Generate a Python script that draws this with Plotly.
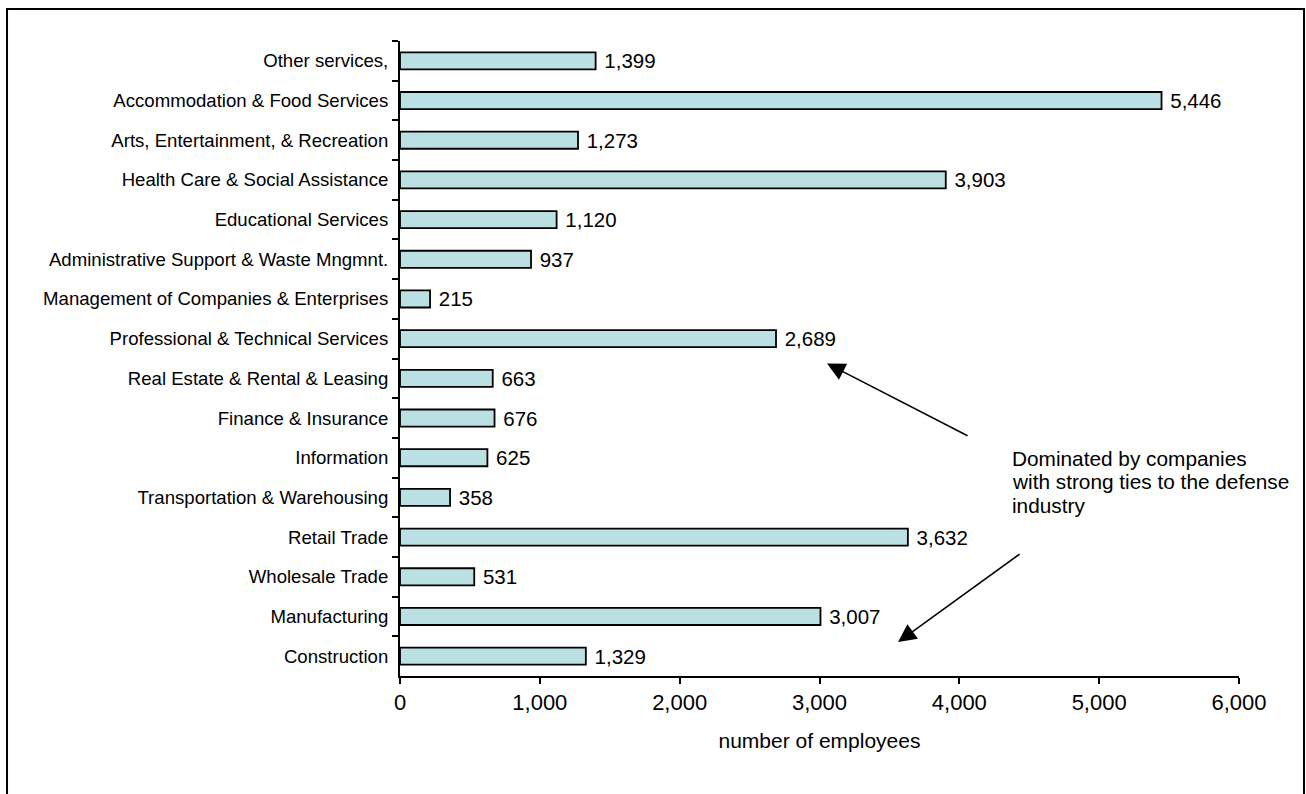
import plotly.graph_objects as go

categories = [
    "Other services,",
    "Accommodation & Food Services",
    "Arts, Entertainment, & Recreation",
    "Health Care & Social Assistance",
    "Educational Services",
    "Administrative Support & Waste Mngmnt.",
    "Management of Companies & Enterprises",
    "Professional & Technical Services",
    "Real Estate & Rental & Leasing",
    "Finance & Insurance",
    "Information",
    "Transportation & Warehousing",
    "Retail Trade",
    "Wholesale Trade",
    "Manufacturing",
    "Construction",
]
employees = [1399, 5446, 1273, 3903, 1120, 937, 215, 2689, 663, 676, 625, 358, 3632, 531, 3007, 1329]
x_ticks = [0, 1000, 2000, 3000, 4000, 5000, 6000]
note_lines = ["Dominated by companies", "with strong ties to the defense", "industry"]

FONT = "Liberation Sans, Arial, sans-serif"

fig = go.Figure(go.Bar(
    x=employees,
    y=categories,
    orientation="h",
    marker=dict(color="#BBE0E3", line=dict(color="black", width=1.8)),
    texttemplate=" %{x:,}",
    textposition="outside",
    constraintext="none",
    cliponaxis=False,
    textfont=dict(family=FONT, size=20.5, color="black"),
    hoverinfo="skip",
))

fig.update_layout(
    width=1306, height=794,
    margin=dict(l=400, r=67, t=41, b=118),
    paper_bgcolor="white", plot_bgcolor="white",
    bargap=0.57,
    showlegend=False,
    font=dict(family=FONT, color="black"),
)

fig.update_xaxes(
    range=[0, 6000], tickvals=x_ticks, tickformat=",",
    showgrid=False, zeroline=False,
    showline=True, linecolor="black", linewidth=2,
    ticks="outside", ticklen=6, tickwidth=2, tickcolor="black",
    tickfont=dict(size=22),
    title=dict(text="number of employees", font=dict(size=21), standoff=19),
)
fig.update_yaxes(
    autorange="reversed",
    showgrid=False, zeroline=False,
    showline=True, linecolor="black", linewidth=2,
    ticks="outside", ticklen=6, tickwidth=2, tickcolor="black",
    tickson="boundaries",
    tickfont=dict(size=18.6),
    ticklabelstandoff=6,
)

# outer border
fig.add_shape(type="rect", xref="paper", yref="paper",
              x0=-0.4684, x1=1.0775, y0=-0.19, y1=1.0503,
              line=dict(color="black", width=2), fillcolor="rgba(0,0,0,0)")

# annotation text, one line at a time for tighter spacing
line_y_px = [458, 482, 505]
for txt, ypx in zip(note_lines, line_y_px):
    fig.add_annotation(
        xref="paper", yref="paper", x=(1010 - 400) / 839, y=(676 - ypx) / 635,
        xanchor="left", yanchor="middle", align="left", showarrow=False,
        text=txt,
        font=dict(size=20.8, family=FONT, color="black"),
    )
# arrows
fig.add_annotation(
    xref="x", yref="paper", x=3054, y=0.4921, ax=142, ay=73,
    axref="pixel", ayref="pixel", text="", showarrow=True,
    arrowhead=2, arrowsize=2.4, arrowwidth=1.5, arrowcolor="black",
)
fig.add_annotation(
    xref="x", yref="paper", x=3562, y=0.0535, ax=123, ay=-89,
    axref="pixel", ayref="pixel", text="", showarrow=True,
    arrowhead=2, arrowsize=2.4, arrowwidth=1.5, arrowcolor="black",
)

fig.write_html("out.html")
